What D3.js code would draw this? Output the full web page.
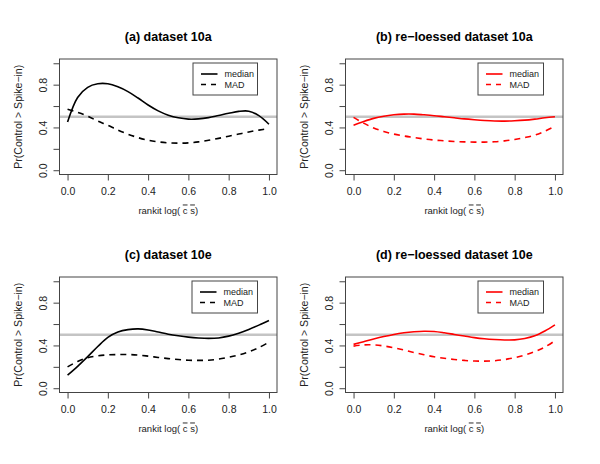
<!DOCTYPE html>
<html>
<head>
<meta charset="utf-8">
<script src="https://cdn.jsdelivr.net/npm/d3@7"></script>
<style>
  body { margin: 0; background: #fff; }
  text { font-family: "Liberation Sans", Arial, sans-serif; }
</style>
</head>
<body>
<svg id="chart" width="600" height="464"></svg>
<script>
// x grid shared by every curve (rankit log)
const xGrid = [0, 0.05, 0.1, 0.15, 0.2, 0.25, 0.3, 0.35, 0.4, 0.45, 0.5,
    0.55, 0.6, 0.65, 0.7, 0.75, 0.8, 0.85, 0.9, 0.95, 1.0]

const medianA = [0.45, 0.68, 0.775, 0.808, 0.808, 0.78, 0.735, 0.675, 0.61, 0.555, 0.515,
    0.49, 0.478, 0.48, 0.492, 0.512, 0.532, 0.55, 0.552, 0.51, 0.43]
const madA = [0.57, 0.54, 0.505, 0.46, 0.42, 0.375, 0.337, 0.305, 0.28, 0.265, 0.256,
    0.253, 0.256, 0.265, 0.28, 0.298, 0.318, 0.338, 0.358, 0.375, 0.39]

const medianB = [0.42, 0.455, 0.485, 0.505, 0.518, 0.525, 0.525, 0.518, 0.51, 0.5, 0.49,
    0.48, 0.472, 0.465, 0.46, 0.459, 0.462, 0.468, 0.478, 0.49, 0.5]
const madB = [0.494, 0.44, 0.395, 0.362, 0.338, 0.32, 0.306, 0.292, 0.282, 0.275, 0.269,
    0.265, 0.263, 0.263, 0.266, 0.274, 0.287, 0.305, 0.328, 0.365, 0.412]

const medianC = [0.122, 0.205, 0.295, 0.39, 0.475, 0.525, 0.548, 0.555, 0.545, 0.525, 0.505,
    0.49, 0.478, 0.47, 0.466, 0.47, 0.487, 0.515, 0.55, 0.59, 0.633]
const madC = [0.2, 0.25, 0.285, 0.303, 0.312, 0.315, 0.315, 0.31, 0.3, 0.288, 0.277,
    0.268, 0.262, 0.26, 0.262, 0.272, 0.289, 0.31, 0.34, 0.38, 0.43]

const medianD = [0.41, 0.435, 0.46, 0.483, 0.503, 0.518, 0.528, 0.533, 0.53, 0.518, 0.503,
    0.488, 0.473, 0.462, 0.455, 0.451, 0.452, 0.465, 0.49, 0.535, 0.592]
const madD = [0.394, 0.405, 0.405, 0.395, 0.378, 0.357, 0.334, 0.313, 0.294, 0.28, 0.269,
    0.26, 0.254, 0.253, 0.257, 0.268, 0.285, 0.31, 0.342, 0.385, 0.444]

const titles = ['(a) dataset 10a', '(b) re\u2212loessed dataset 10a',
    '(c) dataset 10e', '(d) re\u2212loessed dataset 10e']
const legendLabels = ['median', 'MAD']
const xTicks = [0, 0.2, 0.4, 0.6, 0.8, 1.0]
const yTicks = [0, 0.2, 0.4, 0.6, 0.8, 1.0]
const yLabelled = [0, 0.4, 0.8]
const refLevel = 0.5

const PLOT_W = 217.5
const PLOT_H = 115.5
const panels = [
    { title: titles[0], median: medianA, mad: madA, color: '#000', left: 59.5, top: 59, legendW: 64.5 },
    { title: titles[1], median: medianB, mad: madB, color: '#ff0000', left: 345.5, top: 59, legendW: 65.5 },
    { title: titles[2], median: medianC, mad: madC, color: '#000', left: 59.5, top: 277, legendW: 65.5 },
    { title: titles[3], median: medianD, mad: madD, color: '#ff0000', left: 345.5, top: 277, legendW: 65.5 }
]

const svg = d3.select('#chart')
svg.append('rect').attr('width', 600).attr('height', 464).attr('fill', '#fff')

const drawPanel = p => {
    const x = d3.scaleLinear().domain([-0.04, 1.04]).range([p.left, p.left + PLOT_W])
    const y = d3.scaleLinear().domain([-0.04, 1.04]).range([p.top + PLOT_H, p.top])
    const g = svg.append('g')

    // title
    g.append('text')
        .attr('x', p.left + PLOT_W / 2)
        .attr('y', p.top - 18.5)
        .attr('text-anchor', 'middle')
        .attr('font-size', 12.5)
        .attr('font-weight', 'bold')
        .text(p.title)

    // reference line
    g.append('line')
        .attr('x1', p.left).attr('x2', p.left + PLOT_W)
        .attr('y1', y(refLevel)).attr('y2', y(refLevel))
        .attr('stroke', '#c4c4c4')
        .attr('stroke-width', 2.5)

    const line = d3.line()
        .x((d, i) => x(xGrid[i]))
        .y(d => y(d))
        .curve(d3.curveCatmullRom.alpha(0.5))

    g.append('path')
        .attr('d', line(p.mad))
        .attr('fill', 'none')
        .attr('stroke', p.color)
        .attr('stroke-width', 1.6)
        .attr('stroke-dasharray', '6,5')

    g.append('path')
        .attr('d', line(p.median))
        .attr('fill', 'none')
        .attr('stroke', p.color)
        .attr('stroke-width', 1.6)

    // box
    g.append('rect')
        .attr('x', p.left).attr('y', p.top)
        .attr('width', PLOT_W).attr('height', PLOT_H)
        .attr('fill', 'none')
        .attr('stroke', '#444')
        .attr('stroke-width', 1)

    // x axis
    const xAxis = g.append('g')
        .attr('transform', `translate(0,${p.top + PLOT_H})`)
        .call(d3.axisBottom(x).tickValues(xTicks).tickSize(6).tickSizeOuter(0)
            .tickFormat(d3.format('.1f')))
    xAxis.select('.domain').attr('stroke', '#444')
        .attr('d', `M${x(0)},0H${x(1)}`)
    xAxis.selectAll('.tick line').attr('stroke', '#444')
    xAxis.selectAll('.tick text')
        .attr('font-size', 10.5)
        .attr('font-family', '"Liberation Sans", Arial, sans-serif')
        .attr('fill', '#222')
        .attr('dy', '1.05em')

    // y axis
    const yAxis = g.append('g')
        .attr('transform', `translate(${p.left},0)`)
        .call(d3.axisLeft(y).tickValues(yTicks).tickSize(6).tickSizeOuter(0)
            .tickFormat(d => yLabelled.includes(d) ? d3.format('.1f')(d) : ''))
    yAxis.select('.domain').attr('stroke', '#444')
        .attr('d', `M0,${y(0)}V${y(1)}`)
    yAxis.selectAll('.tick line').attr('stroke', '#444')
    yAxis.selectAll('.tick text')
        .attr('font-size', 10.5)
        .attr('font-family', '"Liberation Sans", Arial, sans-serif')
        .attr('fill', '#222')
        .attr('x', null)
        .attr('text-anchor', 'middle')
        .attr('transform', 'translate(-13,0) rotate(-90)')
        .attr('dy', '0em')

    // axis titles
    const xl = g.append('text')
        .attr('x', p.left + PLOT_W / 2)
        .attr('y', p.top + PLOT_H + 39)
        .attr('text-anchor', 'middle')
        .attr('font-size', 9.5)
        .attr('fill', '#222')
    xl.append('tspan').text('rankit log( ')
    xl.append('tspan').attr('text-decoration', 'overline').text('c')
    xl.append('tspan').text(' ')
    xl.append('tspan').attr('text-decoration', 'overline').text('s')
    xl.append('tspan').text(')')

    g.append('text')
        .attr('transform', `translate(${p.left - 38},${p.top + PLOT_H / 2}) rotate(-90)`)
        .attr('text-anchor', 'middle')
        .attr('font-size', 10.5)
        .attr('fill', '#222')
        .text('Pr(Control > Spike\u2212in)')

    // legend
    const lx = p.left + PLOT_W - 19.5 - p.legendW
    const ly = p.top + 4
    const lg = g.append('g').attr('transform', `translate(${lx},${ly})`)
    lg.append('rect')
        .attr('width', p.legendW).attr('height', 32)
        .attr('fill', '#fff')
        .attr('stroke', '#444')
    legendLabels.forEach((lab, i) => {
        lg.append('line')
            .attr('x1', 8).attr('x2', 24.5)
            .attr('y1', 11 + i * 10.5).attr('y2', 11 + i * 10.5)
            .attr('stroke', p.color)
            .attr('stroke-width', 1.6)
            .attr('stroke-dasharray', i === 1 ? '5,5' : null)
        lg.append('text')
            .attr('x', 31.5)
            .attr('y', 11 + i * 10.5)
            .attr('dy', '0.35em')
            .attr('font-size', 9)
            .attr('fill', '#222')
            .text(lab)
    })
}

panels.forEach(drawPanel)
</script>
</body>
</html>
